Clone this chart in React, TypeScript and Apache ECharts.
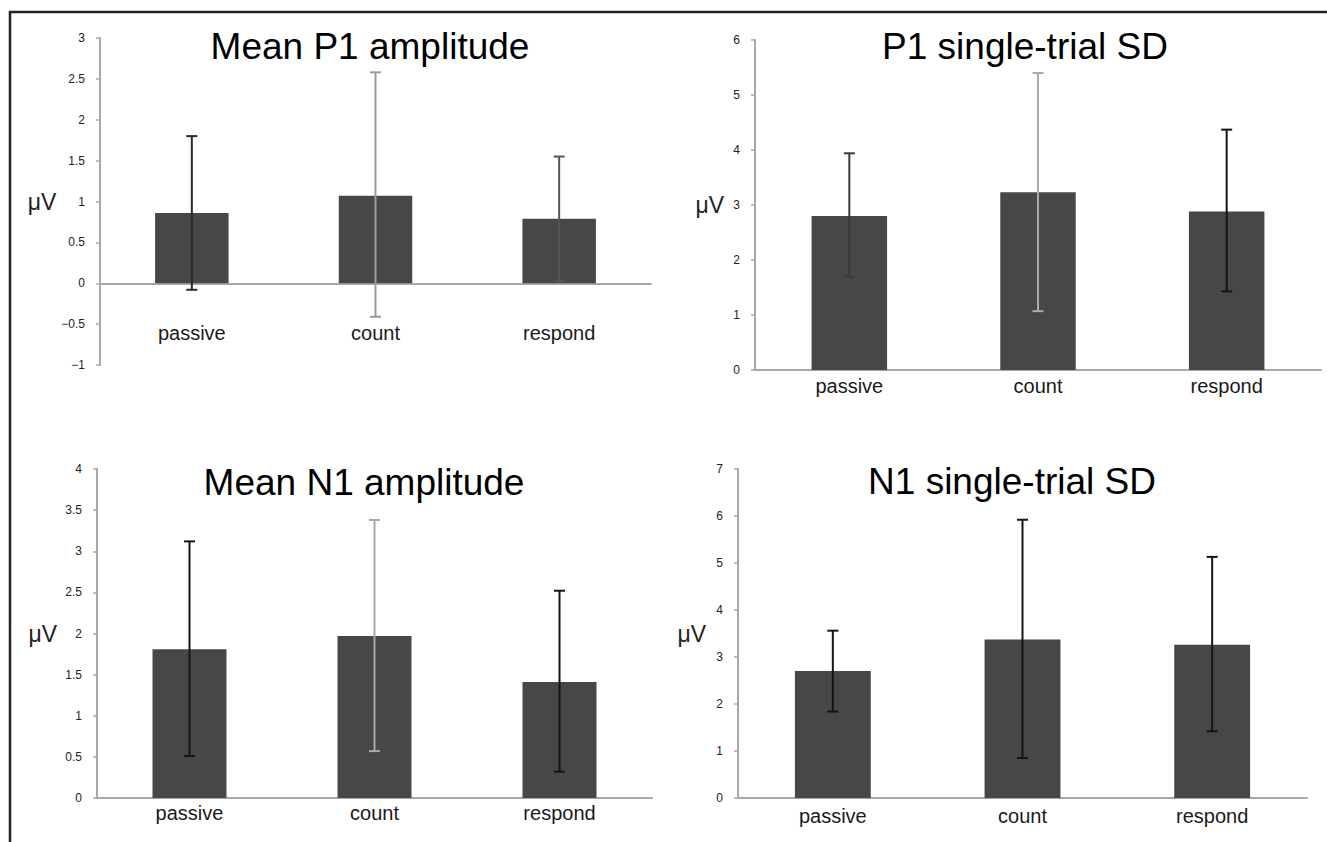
import React, { useEffect, useRef } from "react";
import * as echarts from "echarts";

const categories = ["passive", "count", "respond"];

// Mean P1 amplitude
const p1MeanValues = [0.86, 1.07, 0.79];
const p1MeanLow = [-0.08, -0.41, 0.03];
const p1MeanHigh = [1.8, 2.58, 1.55];
const p1MeanTicks = { min: -1, max: 3, interval: 0.5 };

// P1 single-trial SD
const p1SdValues = [2.8, 3.23, 2.88];
const p1SdLow = [1.7, 1.07, 1.43];
const p1SdHigh = [3.94, 5.4, 4.37];
const p1SdTicks = { min: 0, max: 6, interval: 1 };

// Mean N1 amplitude
const n1MeanValues = [1.81, 1.97, 1.41];
const n1MeanLow = [0.51, 0.57, 0.32];
const n1MeanHigh = [3.12, 3.38, 2.52];
const n1MeanTicks = { min: 0, max: 4, interval: 0.5 };

// N1 single-trial SD
const n1SdValues = [2.7, 3.37, 3.26];
const n1SdLow = [1.84, 0.85, 1.42];
const n1SdHigh = [3.56, 5.92, 5.13];
const n1SdTicks = { min: 0, max: 7, interval: 1 };

const titles = ["Mean P1 amplitude", "P1 single-trial SD", "Mean N1 amplitude", "N1 single-trial SD"];
const unitLabel = "μV";

// styles / layout (not data)
const BAR_COLOR = "#474747";
const AXIS_COLOR = "#a8a8a8";
const errColors = [
  ["#2a2a2a", "#9a9a9a", "#555555"],
  ["#3a3a3a", "#aaaaaa", "#151515"],
  ["#151515", "#a8a8a8", "#151515"],
  ["#151515", "#151515", "#151515"],
];
const layouts = [
  { grid: { left: 100, top: 38, width: 551, height: 327 }, title: { x: 370, y: 28 }, labelMargin: -42, nameGap: 36, namePad: 6 },
  { grid: { left: 755, top: 40, width: 566, height: 330 }, title: { x: 1025, y: 28 }, labelMargin: 6, nameGap: 31, namePad: 12 },
  { grid: { left: 97, top: 469, width: 555, height: 329 }, title: { x: 364, y: 464 }, labelMargin: 5, nameGap: 40, namePad: 10 },
  { grid: { left: 738, top: 469, width: 569, height: 329 }, title: { x: 1012, y: 463 }, labelMargin: 8, nameGap: 32, namePad: 10 },
];

const panels = [
  { values: p1MeanValues, low: p1MeanLow, high: p1MeanHigh, ticks: p1MeanTicks },
  { values: p1SdValues, low: p1SdLow, high: p1SdHigh, ticks: p1SdTicks },
  { values: n1MeanValues, low: n1MeanLow, high: n1MeanHigh, ticks: n1MeanTicks },
  { values: n1SdValues, low: n1SdLow, high: n1SdHigh, ticks: n1SdTicks },
];

const FONT = "'Liberation Sans', Arial, Helvetica, sans-serif";

function buildOption() {
  const grid: any[] = [];
  const xAxis: any[] = [];
  const yAxis: any[] = [];
  const series: any[] = [];
  const title: any[] = [];

  panels.forEach((p, i) => {
    const L = layouts[i];
    grid.push({ ...L.grid, containLabel: false });
    title.push({
      text: titles[i],
      left: L.title.x,
      top: L.title.y,
      textAlign: "center",
      padding: 0,
      textStyle: { fontSize: 37, fontWeight: "normal", color: "#000", fontFamily: FONT },
    });
    xAxis.push({
      type: "category",
      gridIndex: i,
      data: categories,
      axisLine: { show: true, onZero: true, lineStyle: { color: AXIS_COLOR, width: 2 } },
      axisTick: { show: false },
      axisLabel: { margin: L.labelMargin, fontSize: 20, color: "#1a1a1a", fontFamily: FONT },
      splitLine: { show: false },
    });
    yAxis.push({
      type: "value",
      gridIndex: i,
      min: p.ticks.min,
      max: p.ticks.max,
      interval: p.ticks.interval,
      name: unitLabel,
      nameLocation: "middle",
      nameRotate: 0,
      nameGap: L.nameGap,
      nameTextStyle: { fontSize: 23, color: "#222", fontFamily: FONT, padding: [L.namePad, 0, 0, 0] },
      axisLine: { show: true, lineStyle: { color: AXIS_COLOR, width: 2 } },
      axisTick: { show: true, length: 4, lineStyle: { color: AXIS_COLOR, width: 1.5 } },
      axisLabel: {
        margin: 15,
        fontSize: 12,
        color: "#222",
        fontFamily: FONT,
        formatter: (v: number) => String(v).replace("-", "\u2212"),
      },
      splitLine: { show: false },
    });
    series.push({
      type: "bar",
      xAxisIndex: i,
      yAxisIndex: i,
      data: p.values,
      barWidth: "40%",
      itemStyle: { color: BAR_COLOR },
      z: 2,
    });
    const colors = errColors[i];
    series.push({
      type: "custom",
      xAxisIndex: i,
      yAxisIndex: i,
      z: 5,
      data: categories.map((_, k) => [k, p.low[k], p.high[k]]),
      renderItem: (params: any, api: any) => {
        const idx = api.value(0);
        const lo = api.coord([idx, api.value(1)]);
        const hi = api.coord([idx, api.value(2)]);
        const hw = 5.5;
        const stroke = colors[params.dataIndex];
        const style = { stroke, lineWidth: 2 };
        return {
          type: "group",
          children: [
            { type: "line", shape: { x1: lo[0], y1: lo[1], x2: hi[0], y2: hi[1] }, style },
            { type: "line", shape: { x1: hi[0] - hw, y1: hi[1], x2: hi[0] + hw, y2: hi[1] }, style },
            { type: "line", shape: { x1: lo[0] - hw, y1: lo[1], x2: lo[0] + hw, y2: lo[1] }, style },
          ],
        };
      },
    });
  });

  return {
    animation: false,
    backgroundColor: "#ffffff",
    title,
    grid,
    xAxis,
    yAxis,
    series,
    graphic: [
      { type: "line", shape: { x1: 9, y1: 12, x2: 1327, y2: 12 }, style: { stroke: "#222", lineWidth: 2.5 } },
      { type: "line", shape: { x1: 10, y1: 11, x2: 10, y2: 842 }, style: { stroke: "#222", lineWidth: 2.5 } },
    ],
  };
}

export default function App() {
  const ref = useRef<HTMLDivElement>(null);
  useEffect(() => {
    if (!ref.current) return;
    const chart = echarts.init(ref.current, undefined, { renderer: "svg" });
    chart.setOption(buildOption() as any);
    return () => chart.dispose();
  }, []);
  return (
    <div
      ref={ref}
      style={{ position: "fixed", left: 0, top: 0, width: 1327, height: 842, background: "#fff" }}
    />
  );
}
